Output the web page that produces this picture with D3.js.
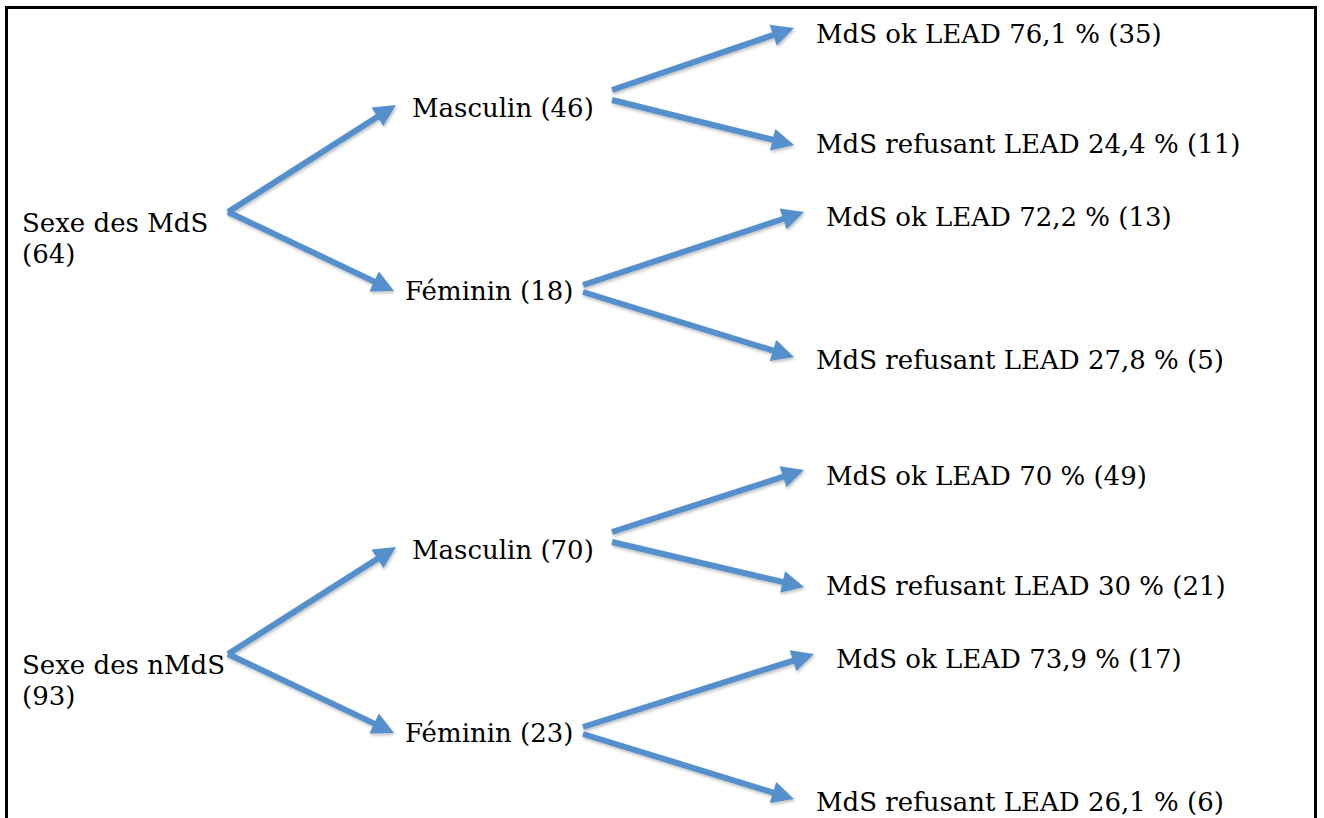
<!DOCTYPE html>
<html>
<head>
<meta charset="utf-8">
<script src="https://cdn.jsdelivr.net/npm/d3@7"></script>
<style>
  body { margin: 0; background: #fff; }
</style>
</head>
<body>
<div id="tree"></div>
<script>

// Data
var roots = ["Sexe des MdS", "Sexe des nMdS"];
var rootCounts = [64, 93];
var sexes = ["Masculin", "Féminin"];
var sexCounts = [[46, 18], [70, 23]];
var outcomes = ["MdS ok LEAD", "MdS refusant LEAD"];
var outcomePct = [[["76,1", "24,4"], ["72,2", "27,8"]], [["70", "30"], ["73,9", "26,1"]]];
var outcomeCounts = [[[35, 11], [13, 5]], [[49, 21], [17, 6]]];

var width = 1324, height = 818;
var font = "DejaVu Serif";

var svg = d3.select("#tree")
  .append("svg")
    .attr("width", width)
    .attr("height", height)
    .style("font-family", font)
    .style("font-size", "26px");

// soft shadow under the arrows
var defs = svg.append("defs");
var f = defs.append("filter").attr("id", "shadow")
    .attr("x", "-20%").attr("y", "-20%").attr("width", "140%").attr("height", "140%");
f.append("feDropShadow")
    .attr("dx", 1).attr("dy", 2).attr("stdDeviation", 1.5)
    .attr("flood-color", "#000").attr("flood-opacity", 0.25);

// frame
svg.append("path")
    .attr("d", "M6.5,818 V7.5 H1315.5 V818")
    .attr("fill", "none")
    .attr("stroke", "#000")
    .attr("stroke-width", 3);

// layout scales
var groupY = d3.scaleLinear().domain([0, 1]).range([0, 442]);
var colX = d3.scaleOrdinal().domain([0, 1, 2]).range([22, 410, 816]);

// y offsets inside one group (centre of text line)
var rootY = 222;
var sexY = d3.scaleOrdinal().domain([0, 1]).range([107, 290]);
var leafY = [[33, 143], [216, 359]];
var leafTipY = [[28, 145], [212, 357]];
var leafX = [[0, 0], [10, 0]];
var sexStart = [{x: 612, dy: [-17, -7]}, {x: 583, dy: [-5, 2]}];
var rootStart = {x: 228, dy: -10};
var sexTip = [{x: 396, dy: -2}, {x: 394, dy: 1}];

var blue = "#5590cc";

function arrow(g, x1, y1, x2, y2) {
  var a = Math.atan2(y2 - y1, x2 - x1),
      len = 22, hw = 11,
      bx = x2 - len * Math.cos(a), by = y2 - len * Math.sin(a);
  var ag = g.append("g").attr("filter", "url(#shadow)");
  ag.append("line")
      .attr("x1", x1).attr("y1", y1)
      .attr("x2", bx + 2 * Math.cos(a)).attr("y2", by + 2 * Math.sin(a))
      .attr("stroke", blue)
      .attr("stroke-width", 6);
  ag.append("path")
      .attr("d", "M" + x2 + "," + y2 +
        "L" + (bx + hw * Math.sin(a)) + "," + (by - hw * Math.cos(a)) +
        "L" + (bx - hw * Math.sin(a)) + "," + (by + hw * Math.cos(a)) + "Z")
      .attr("fill", blue);
}

roots.forEach(function(r, gi) {
  var g = svg.append("g")
      .attr("transform", "translate(0," + groupY(gi) + ")");

  // root label, two lines
  g.append("text")
      .attr("x", colX(0))
      .attr("y", rootY + 10)
      .text(r);
  g.append("text")
      .attr("x", colX(0))
      .attr("y", rootY + 10 + 31)
      .text("(" + rootCounts[gi] + ")");

  sexes.forEach(function(s, si) {
    var sy = sexY(si);
    arrow(g, rootStart.x, rootY + rootStart.dy, sexTip[si].x, sy + sexTip[si].dy);

    g.append("text")
        .attr("x", colX(1) + (si === 0 ? 2 : -5))
        .attr("y", sy + 10)
        .text(s + " (" + sexCounts[gi][si] + ")");

    outcomes.forEach(function(o, oi) {
      var lx = colX(2) + leafX[si][oi] + (gi === 1 && !(si === 1 && oi === 1) ? 10 : 0);
      arrow(g, sexStart[si].x, sy + sexStart[si].dy[oi], lx - 22, leafTipY[si][oi]);
      g.append("text")
          .attr("x", lx)
          .attr("y", leafY[si][oi] + 10)
          .text(o + " " + outcomePct[gi][si][oi] + " % (" + outcomeCounts[gi][si][oi] + ")");
    });
  });
});

</script>
</body>
</html>
